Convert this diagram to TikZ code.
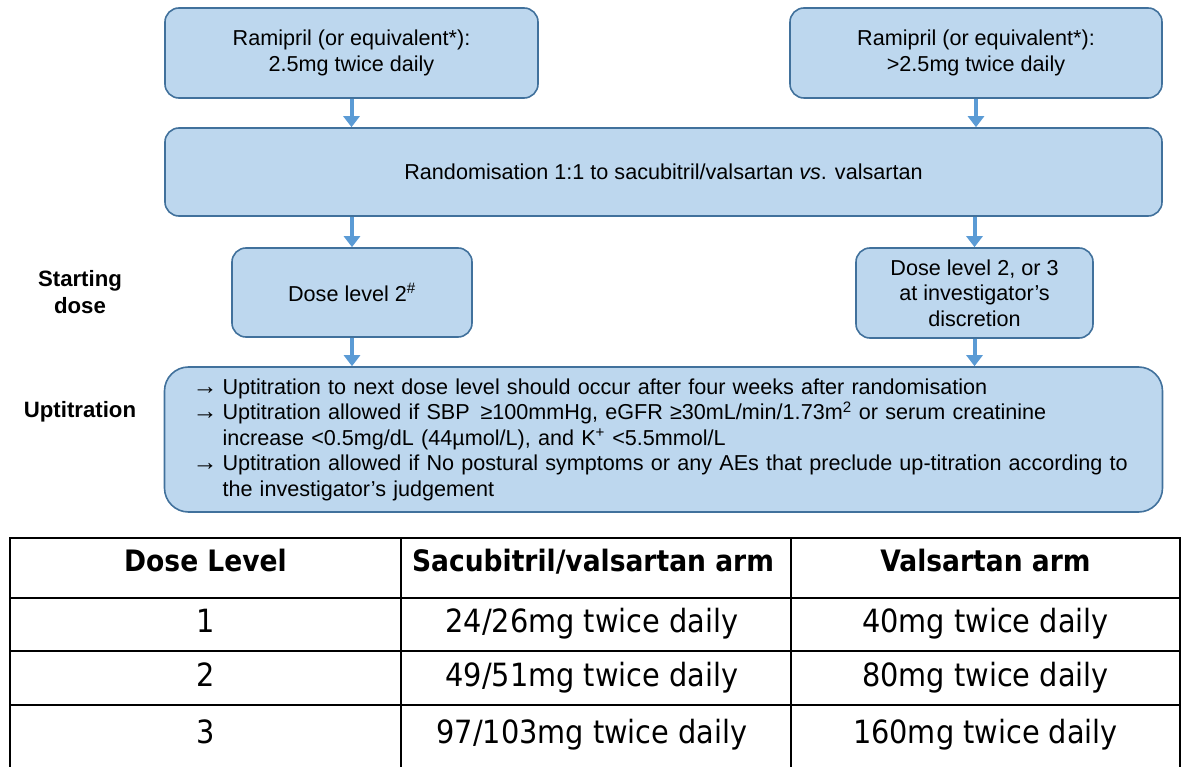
\documentclass[tikz,border=0pt]{standalone}
\usepackage{fontspec}
\setmainfont{Liberation Sans}
\newfontfamily\tabfont{DejaVu Sans Condensed}
\usetikzlibrary{arrows.meta}
\definecolor{boxfill}{HTML}{BDD7EE}
\definecolor{boxborder}{HTML}{41719C}
\definecolor{arrowblue}{HTML}{5B9BD5}
\tikzset{
  flowbox/.style={draw=boxborder, fill=boxfill, line width=1.6pt, rounded corners=14pt,
    align=center, inner sep=0pt, font=\fontsize{21.6}{25.5}\selectfont},
  flowarrow/.style={draw=arrowblue, line width=4pt, -{Triangle[width=16pt,length=11pt]}},
  sidelabel/.style={align=center, inner sep=0pt, font=\fontsize{22.2}{27}\selectfont\bfseries},
  tabline/.style={draw=black, line width=1.6pt},
  tabtext/.style={anchor=base, inner sep=0pt, font=\fontsize{32}{36}\selectfont\tabfont},
  tabhead/.style={anchor=base, inner sep=0pt, font=\fontsize{29.5}{36}\selectfont\tabfont\bfseries}
}
\newcommand{\arrowbullet}{\makebox[30pt][l]{\fontsize{25}{25}\selectfont →}}
\begin{document}
\begin{tikzpicture}[x=1pt,y=-1pt]
\useasboundingbox (0,0) rectangle (1181,767);
% flow boxes
\node[flowbox, minimum width=373pt, minimum height=90pt] (ra) at (351.5,53) {Ramipril (or equivalent*):\\2.5mg twice daily};
\node[flowbox, minimum width=372pt, minimum height=90pt] (rb) at (976,53) {Ramipril (or equivalent*):\\>2.5mg twice daily};
\node[flowbox, minimum width=997pt, minimum height=88pt] (rand) at (663.5,172) {Randomisation 1:1 to sacubitril/valsartan \textit{vs}. valsartan};
\node[flowbox, minimum width=240pt, minimum height=89pt] (da) at (352,292.5) {Dose level 2\textsuperscript{\#}};
\node[flowbox, minimum width=237pt, minimum height=90pt] (db) at (974.5,293) {Dose level 2, or 3\\at investigator’s\\discretion};
\node[flowbox, rounded corners=24pt, minimum width=998pt, minimum height=145pt, align=left, text width=942pt] (up) at (663.5,439.5) {%
\arrowbullet Uptitration to next dose level should occur after four weeks after randomisation\\
\arrowbullet Uptitration allowed if SBP \,≥100mmHg, eGFR ≥30mL/min/1.73m\textsuperscript{2} or serum creatinine\\
\hspace*{30pt}increase <0.5mg/dL (44µmol/L), and K\textsuperscript{+} <5.5mmol/L\\
\arrowbullet Uptitration allowed if No postural symptoms or any AEs that preclude up-titration according to\\
\hspace*{30pt}the investigator’s judgement};
% arrows
\draw[flowarrow] (ra) -- (ra |- rand.north);
\draw[flowarrow] (rb) -- (rb |- rand.north);
\draw[flowarrow] (rand.south -| da) -- (da.north);
\draw[flowarrow] (rand.south -| db) -- (db.north);
\draw[flowarrow] (da) -- (da |- up.north);
\draw[flowarrow] (db) -- (db |- up.north);
% side labels
\node[sidelabel] (lstart) at (80,292) {Starting\\dose};
\node[sidelabel] (lup) at (80,412) {Uptitration};
% table
\draw[tabline] (10,767) -- (10,538) -- (1180,538) -- (1180,767);
\draw[tabline] (401,538) -- (401,767);
\draw[tabline] (791,538) -- (791,767);
\draw[tabline] (10,598) -- (1180,598);
\draw[tabline] (10,651) -- (1180,651);
\draw[tabline] (10,705) -- (1180,705);
\node[tabhead] (h1) at (205.5,571) {Dose Level};
\node[tabhead] (h2) at (593,571) {Sacubitril/valsartan arm};
\node[tabhead] (h3) at (985.5,571) {Valsartan arm};
\node[tabtext] (c11) at (205.5,632) {1};
\node[tabtext] (c12) at (592,632) {24/26mg twice daily};
\node[tabtext] (c13) at (985.5,632) {40mg twice daily};
\node[tabtext] (c21) at (205.5,686) {2};
\node[tabtext] (c22) at (592,686) {49/51mg twice daily};
\node[tabtext] (c23) at (985.5,686) {80mg twice daily};
\node[tabtext] (c31) at (205.5,743) {3};
\node[tabtext] (c32) at (592,743) {97/103mg twice daily};
\node[tabtext] (c33) at (985.5,743) {160mg twice daily};
\end{tikzpicture}
\end{document}
